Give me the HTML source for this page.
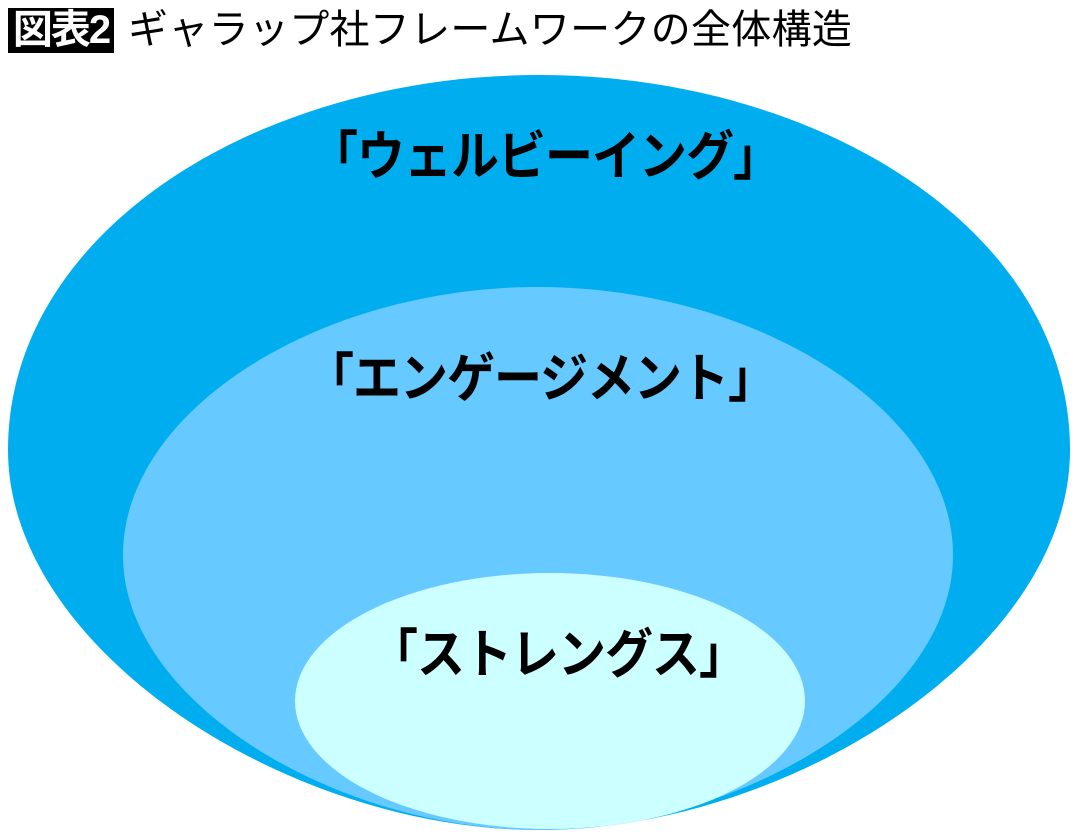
<!DOCTYPE html>
<html><head><meta charset="utf-8"><style>
html,body{margin:0;padding:0;background:#fff;}
body{width:1080px;height:839px;position:relative;overflow:hidden;font-family:"Liberation Sans","Noto Sans CJK JP",sans-serif;}
.tag{position:absolute;left:8px;top:8px;width:106px;height:45px;background:#000;color:#fff;font-size:40px;font-weight:bold;line-height:45px;text-align:center;letter-spacing:-2px;}
.title{position:absolute;left:128px;top:5px;font-size:40px;line-height:50px;color:#000;white-space:nowrap;letter-spacing:0.3px;}
.lbl{position:absolute;font-size:48px;font-weight:bold;line-height:56px;white-space:nowrap;color:#000;letter-spacing:-1px;transform:scaleY(1.1);transform-origin:0 50%;}
</style></head><body>
<svg width="1080" height="839" style="position:absolute;left:0;top:0">
<path d="M8,450 C8,230 260,75 539,75 C818,75 1070,230 1070,450 C1070,650 790,830 539,830 C288,830 8,650 8,450 Z" fill="#00aeef"/>
<path d="M123,555 C123,410 320,287 538,287 C756,287 953,410 953,555 C953,705 735,830 538,830 C341,830 123,705 123,555 Z" fill="#66c9ff"/>
<ellipse cx="550" cy="701" rx="255" ry="128" fill="#ccffff"/>
</svg>
<div class="tag">図表2</div>
<div class="title">ギャラップ社フレームワークの全体構造</div>
<div class="lbl" style="left:310px;top:130px">「ウェルビーイング」</div>
<div class="lbl" style="left:306px;top:352px">「エンゲージメント」</div>
<div class="lbl" style="left:370px;top:628px">「ストレングス」</div>
</body></html>
